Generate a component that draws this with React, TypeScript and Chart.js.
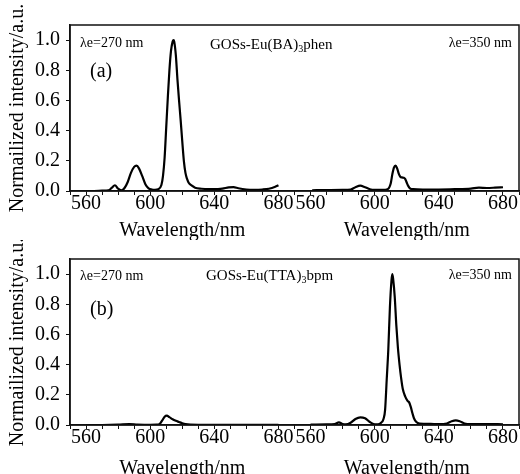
import React, { useEffect, useRef } from 'react';
import { Chart, registerables } from 'chart.js';

Chart.register(...registerables);

const FONT = '"Liberation Serif", "Times New Roman", Times, serif';

// ---------- Panel (a): GOSs-Eu(BA)3phen ----------
const waveA270 = [560, 565, 570, 574, 576, 578, 580, 582, 584, 586, 588, 590, 591.5, 593, 595, 597, 599, 601, 603, 605, 607, 608, 609, 610, 611, 612, 613, 614, 614.6, 615, 616, 617, 618, 619, 620, 621, 622, 623, 624, 626, 628, 632, 636, 640, 645, 649, 652, 655, 660, 665, 670, 674, 678, 680];
const intA270 = [0.0, 0.0, 0.002, 0.005, 0.02, 0.038, 0.015, 0.005, 0.02, 0.06, 0.12, 0.16, 0.168, 0.15, 0.1, 0.045, 0.018, 0.01, 0.008, 0.012, 0.04, 0.1, 0.22, 0.42, 0.62, 0.8, 0.93, 0.99, 1.0, 0.99, 0.9, 0.74, 0.6, 0.47, 0.33, 0.2, 0.12, 0.08, 0.055, 0.035, 0.022, 0.015, 0.012, 0.012, 0.016, 0.024, 0.026, 0.018, 0.01, 0.008, 0.01, 0.015, 0.028, 0.038];

const waveA350 = [561, 570, 580, 585, 588, 591, 594, 597, 600, 605, 608, 610, 611, 612, 613, 614, 615, 616, 617, 618, 619, 620, 621, 622, 624, 630, 640, 650, 660, 665, 670, 675, 680];
const intA350 = [0.005, 0.006, 0.007, 0.01, 0.025, 0.035, 0.025, 0.012, 0.008, 0.008, 0.012, 0.05, 0.11, 0.155, 0.168, 0.15, 0.115, 0.095, 0.09, 0.088, 0.08, 0.055, 0.032, 0.018, 0.012, 0.01, 0.01, 0.012, 0.016, 0.022, 0.02, 0.022, 0.025];

// ---------- Panel (b): GOSs-Eu(TTA)3bpm ----------
const waveB270 = [560, 570, 580, 587, 592, 600, 604, 606, 607.5, 609, 610.4, 612, 614, 616, 618, 620, 622, 625, 630, 640, 660, 680];
const intB270 = [0.0, 0.0, 0.002, 0.006, 0.003, 0.001, 0.002, 0.008, 0.03, 0.055, 0.062, 0.052, 0.038, 0.028, 0.02, 0.012, 0.006, 0.002, 0.001, 0.001, 0.001, 0.001];

const waveB350 = [560, 570, 575, 577.7, 580, 582, 585, 588, 591, 594, 597, 600, 602, 604, 605.5, 606.5, 607.5, 608.5, 609.5, 610.5, 611, 611.5, 612.5, 613.5, 614.5, 615.5, 616.5, 617.5, 619, 620.5, 621.5, 622.5, 623.5, 624.5, 626, 628, 635, 640, 645, 648, 650.6, 653, 656, 660, 670, 680];
const intB350 = [0.003, 0.004, 0.006, 0.018, 0.006, 0.004, 0.015, 0.04, 0.051, 0.045, 0.02, 0.005, 0.004, 0.015, 0.04, 0.1, 0.3, 0.5, 0.78, 0.96, 1.0, 0.97, 0.85, 0.66, 0.51, 0.4, 0.31, 0.24, 0.19, 0.16, 0.15, 0.12, 0.08, 0.045, 0.02, 0.01, 0.007, 0.006, 0.01, 0.025, 0.031, 0.025, 0.01, 0.006, 0.006, 0.005];

// ---------- Axes / labels ----------
const xMin = 550;
const xMax = 690;
const xMinorStep = 10;
const xLabelTicks = [560, 600, 640, 680];
const yMin = 0;
const yMax = 1.1;
const yMinorStep = 0.1;
const yLabelTicks = [0.0, 0.2, 0.4, 0.6, 0.8, 1.0];
const xTitle = 'Wavelength/nm';
const yTitle = 'Normailized intensity/a.u.';
const excLeft = 'λe=270 nm';
const excRight = 'λe=350 nm';
const sampleA = ['GOSs-Eu(BA)', '3', 'phen'];
const sampleB = ['GOSs-Eu(TTA)', '3', 'bpm'];

const INK = '#111';

const toPoints = (xs: number[], ys: number[]) => xs.map((x, i) => ({ x, y: ys[i] }));

function makeXAxis(titlePadBottom: number) {
  return {
    type: 'linear',
    position: 'bottom',
    stack: 'wl',
    stackWeight: 1,
    min: xMin,
    max: xMax,
    afterBuildTicks: (s: any) => {
      const t: any[] = [];
      for (let v = xMin; v <= xMax; v += xMinorStep) t.push({ value: v });
      s.ticks = t;
    },
    afterFit: (s: any) => {
      s.height = 49;
    },
    ticks: {
      autoSkip: false,
      maxRotation: 0,
      minRotation: 0,
      padding: -1,
      color: '#000',
      font: { family: FONT, size: 20, lineHeight: 1 },
      callback: (v: any) => (xLabelTicks.includes(Number(v)) ? String(v) : ''),
    },
    grid: { drawOnChartArea: false, drawTicks: true, tickLength: 4, color: INK, lineWidth: 1 },
    border: { display: true, color: INK, width: 1.5 },
    title: {
      display: true,
      text: xTitle,
      color: '#000',
      font: { family: FONT, size: 20, lineHeight: 1 },
      padding: { top: 0, bottom: titlePadBottom },
    },
  };
}

function makeYAxis() {
  return {
    type: 'linear',
    position: 'left',
    min: yMin,
    max: yMax,
    afterBuildTicks: (s: any) => {
      const t: any[] = [];
      for (let i = 0; i <= Math.round((yMax - yMin) / yMinorStep); i++) t.push({ value: yMin + i * yMinorStep });
      s.ticks = t;
    },
    afterFit: (s: any) => {
      s.width = 70;
    },
    ticks: {
      padding: 6,
      color: '#000',
      font: { family: FONT, size: 20, lineHeight: 1 },
      callback: (v: any) => (yLabelTicks.some((t) => Math.abs(t - Number(v)) < 1e-6) ? Number(v).toFixed(1) : ''),
    },
    grid: {
      drawOnChartArea: false,
      drawTicks: true,
      tickLength: 4,
      lineWidth: 1,
      color: (ctx: any) => (ctx.tick && ctx.tick.value > 1.05 ? 'rgba(0,0,0,0)' : INK),
    },
    border: { display: true, color: INK, width: 1.5 },
    title: {
      display: true,
      text: yTitle,
      color: '#000',
      font: { family: FONT, size: 20, lineHeight: 1 },
      padding: { top: 8, bottom: 0 },
    },
  };
}

type Ann = {
  panel: string;
  sample: string[];
  excY: number;
  panelY: number;
  sampleX: number;
  sampleY: number;
  excRY: number;
};

function annotationPlugin(a: Ann) {
  return {
    id: 'annot',
    afterDraw(chart: any) {
      const { ctx, chartArea } = chart;
      const { left, right, top, bottom } = chartArea;
      ctx.save();
      // frame
      ctx.strokeStyle = INK;
      ctx.lineWidth = 1.5;
      ctx.strokeRect(left, top, right - left, bottom - top);
      ctx.fillStyle = '#000';
      ctx.textBaseline = 'middle';
      // excitation labels
      ctx.font = `14px ${FONT}`;
      ctx.textAlign = 'left';
      ctx.fillText(excLeft, left + 10, top + a.excY);
      ctx.textAlign = 'right';
      ctx.fillText(excRight, right - 7, top + a.excRY);
      // panel label
      ctx.textAlign = 'left';
      ctx.font = `20px ${FONT}`;
      ctx.fillText(a.panel, left + 20, top + a.panelY);
      // sample name with subscript
      let x = left + a.sampleX;
      const y = top + a.sampleY;
      ctx.font = `15px ${FONT}`;
      ctx.fillText(a.sample[0], x, y);
      x += ctx.measureText(a.sample[0]).width;
      ctx.font = `10px ${FONT}`;
      ctx.fillText(a.sample[1], x, y + 4);
      x += ctx.measureText(a.sample[1]).width;
      ctx.font = `15px ${FONT}`;
      ctx.fillText(a.sample[2], x, y);
      ctx.restore();
    },
  };
}

function makeConfig(
  leftX: number[],
  leftY: number[],
  rightX: number[],
  rightY: number[],
  topPad: number,
  titlePadBottom: number,
  ann: Ann
): any {
  const lineStyle = {
    borderColor: '#000',
    borderWidth: 2.2,
    pointRadius: 0,
    fill: false,
    cubicInterpolationMode: 'monotone',
  };
  return {
    type: 'line',
    data: {
      datasets: [
        { ...lineStyle, label: excLeft, data: toPoints(leftX, leftY), xAxisID: 'xL', yAxisID: 'y' },
        { ...lineStyle, label: excRight, data: toPoints(rightX, rightY), xAxisID: 'xR', yAxisID: 'y' },
      ],
    },
    options: {
      responsive: false,
      animation: false,
      devicePixelRatio: 1,
      layout: { padding: { top: topPad, right: 1, left: 0, bottom: 0 } },
      plugins: { legend: { display: false }, tooltip: { enabled: false } },
      scales: {
        xL: makeXAxis(titlePadBottom),
        xR: makeXAxis(titlePadBottom),
        y: makeYAxis(),
      },
    },
    plugins: [annotationPlugin(ann)],
  };
}

export default function App() {
  const refA = useRef<HTMLCanvasElement>(null);
  const refB = useRef<HTMLCanvasElement>(null);

  useEffect(() => {
    Chart.defaults.font.family = FONT;
    const cA = new Chart(
      refA.current as HTMLCanvasElement,
      makeConfig(waveA270, intA270, waveA350, intA350, 25, -1, {
        panel: '(a)',
        sample: sampleA,
        excY: 18,
        panelY: 47,
        sampleX: 140,
        sampleY: 20,
        excRY: 18,
      })
    );
    const cB = new Chart(
      refB.current as HTMLCanvasElement,
      makeConfig(waveB270, intB270, waveB350, intB350, 19, -5, {
        panel: '(b)',
        sample: sampleB,
        excY: 17,
        panelY: 51,
        sampleX: 136,
        sampleY: 17,
        excRY: 16,
      })
    );
    return () => {
      cA.destroy();
      cB.destroy();
    };
  }, []);

  return (
    <div style={{ position: 'absolute', left: 0, top: 0, width: 520, height: 474, background: '#fff', overflow: 'hidden' }}>
      <canvas ref={refA} width={520} height={240} style={{ position: 'absolute', left: 0, top: 0, width: 520, height: 240 }} />
      <canvas ref={refB} width={520} height={234} style={{ position: 'absolute', left: 0, top: 240, width: 520, height: 234 }} />
    </div>
  );
}
